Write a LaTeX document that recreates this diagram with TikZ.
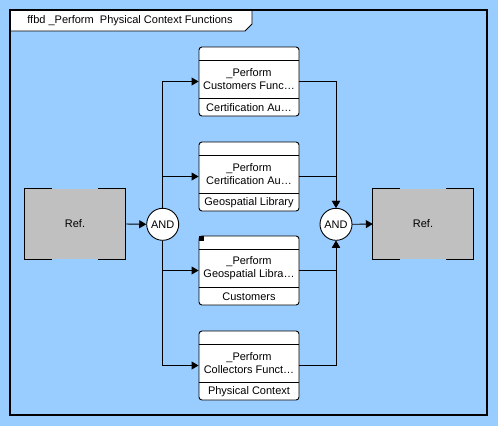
\documentclass[tikz,border=0pt]{standalone}
\usepackage{fontspec}
\setmainfont{Liberation Sans}
\usetikzlibrary{arrows.meta}
\definecolor{bgblue}{RGB}{153,204,255}
\definecolor{refgray}{RGB}{192,192,192}
\newcommand\mydiagfont{\fontsize{11}{13}\selectfont}
\begin{document}
\begin{tikzpicture}[x=1pt,y=-1pt,
  fnbox/.style={draw,fill=white,rounded corners=3pt,minimum width=100pt,minimum height=69pt,inner sep=0pt,line width=0.9pt},
  fntext/.style={font=\mydiagfont,align=center,inner sep=0pt},
  refbox/.style={fill=refgray,minimum width=100pt,minimum height=70pt,inner sep=0pt,font=\mydiagfont},
  andnode/.style={circle,draw,fill=white,minimum size=32pt,inner sep=0pt,line width=0.9pt,font=\mydiagfont},
  conn/.style={line width=0.9pt},
  arr/.style={conn,-{Triangle[length=7pt,width=8pt]}},
  brk/.style={line width=0.9pt}
]
% background and frame
\fill[bgblue] (0,0) rectangle (498,426);
\useasboundingbox (0,0) rectangle (498,426);
\fill[white] (10,10) -- (252,10) -- (252,24) -- (245,31) -- (10,31) -- cycle;
\draw[line width=0.9pt] (252,10) -- (252,24) -- (245,31) -- (10,31);
\node[font=\mydiagfont,inner sep=0pt] (title) at (130,21) {ffbd \_Perform\ \ Physical Context Functions};
\draw[line width=2.5pt] (10,10) rectangle (487,415);

% reference boxes
\node[refbox] (r1) at (75,224) {Ref.};
\node[refbox] (r2) at (423,224) {Ref.};
\foreach \r in {r1,r2}{
  \draw[brk] ([xshift=27pt]\r.north west) -- (\r.north west) -- (\r.south west) -- ([xshift=27pt]\r.south west);
  \draw[brk] ([xshift=-27pt]\r.north east) -- (\r.north east) -- (\r.south east) -- ([xshift=-27pt]\r.south east);
}

% AND gates
\node[andnode] (a1) at (162.7,224.3) {AND};
\node[andnode] (a2) at (336,224.3) {AND};

% function boxes
\node[fnbox] (f1) at (249,81.5) {};
\node[fnbox] (f2) at (249,176.5) {};
\node[fnbox] (f3) at (249,270.5) {};
\node[fnbox] (f4) at (249,365.5) {};
\foreach \f in {f1,f2,f3,f4}{
  \draw[line width=0.9pt] ([yshift=-14pt]\f.north west) -- ([yshift=-14pt]\f.north east);
  \draw[line width=0.9pt] ([yshift=-52pt]\f.north west) -- ([yshift=-52pt]\f.north east);
}
\fill ([shift={(0.5pt,-0.5pt)}]f3.north west) rectangle +(4.5pt,-4.5pt);

\node[fntext] (f1m) at ([yshift=-33pt]f1.north) {\_Perform\\Customers Func…};
\node[fntext] (f1b) at ([yshift=-61pt]f1.north) {Certification Au…};
\node[fntext] (f2m) at ([yshift=-33pt]f2.north) {\_Perform\\Certification Au…};
\node[fntext] (f2b) at ([yshift=-61pt]f2.north) {Geospatial Library};
\node[fntext] (f3m) at ([yshift=-33pt]f3.north) {\_Perform\\Geospatial Libra…};
\node[fntext] (f3b) at ([yshift=-61pt]f3.north) {Customers};
\node[fntext] (f4m) at ([yshift=-33pt]f4.north) {\_Perform\\Collectors Funct…};
\node[fntext] (f4b) at ([yshift=-61pt]f4.north) {Physical Context};

% connectors
\draw[arr] (r1.east) -- (a1.west);
\draw[arr] (a1.north) |- (f1.west);
\draw[arr] (a1.north) |- (f2.west);
\draw[arr] (a1.south) |- (f3.west);
\draw[arr] (a1.south) |- (f4.west);
\draw[arr] (f1.east) -| (a2.north);
\draw[arr] (f2.east) -| (a2.north);
\draw[arr] (f3.east) -| (a2.south);
\draw[arr] (f4.east) -| (a2.south);
\draw[arr] (a2.east) -- (r2.west);
\end{tikzpicture}
\end{document}
